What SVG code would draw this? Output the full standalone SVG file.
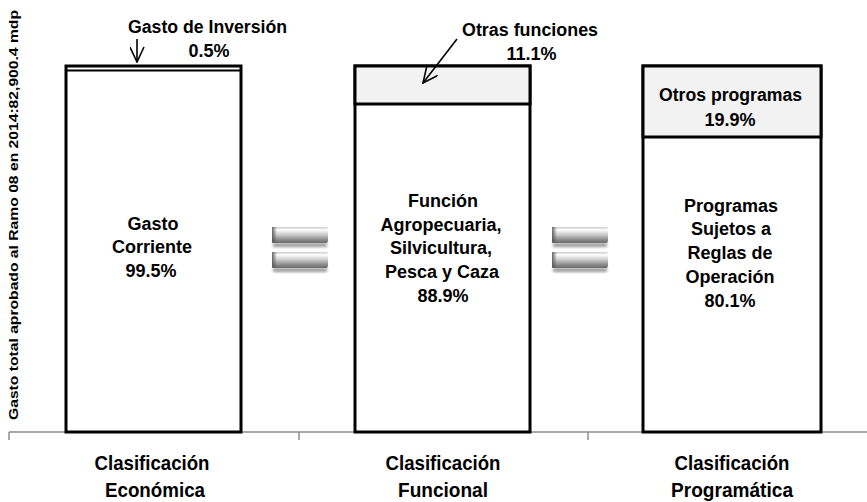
<svg xmlns="http://www.w3.org/2000/svg" width="867" height="502" viewBox="0 0 867 502">
  <defs>
    <style>
      text { font-family: "Liberation Sans", Arial, sans-serif; font-weight: bold; fill: #000; text-anchor: middle; }
      .lbl { font-size: 18px; }
      .ax { font-size: 20.5px; }
      .yl { font-size: 12.5px; }
      .bar { fill: #ffffff; stroke: #000; stroke-width: 3; }
      .seg { fill: #f2f2f2; stroke: #000; stroke-width: 3; }
      .axis { stroke: #8c8c8c; stroke-width: 1.5; fill: none; }
      .arrow { stroke: #000; stroke-width: 1.6; fill: none; }
    </style>
    <linearGradient id="bevel" x1="0" y1="0" x2="0" y2="1">
      <stop offset="0" stop-color="#c8c8c8"/>
      <stop offset="0.18" stop-color="#ffffff"/>
      <stop offset="0.45" stop-color="#d0d0d0"/>
      <stop offset="0.8" stop-color="#8a8a8a"/>
      <stop offset="1" stop-color="#6a6a6a"/>
    </linearGradient>
    <linearGradient id="edge" x1="0" y1="0" x2="1" y2="0">
      <stop offset="0" stop-color="#555" stop-opacity="0.9"/>
      <stop offset="1" stop-color="#555" stop-opacity="0"/>
    </linearGradient>
    <filter id="blur" x="-20%" y="-50%" width="140%" height="200%">
      <feGaussianBlur stdDeviation="1.5"/>
    </filter>
    <marker id="vhead" viewBox="0 0 17 15" refX="16" refY="7.5" markerWidth="17" markerHeight="15" markerUnits="userSpaceOnUse" orient="auto">
      <path d="M1,0.5 L16,7.5 L1,14.5" fill="none" stroke="#000" stroke-width="1.6"/>
    </marker>
    <g id="eqbar">
      <rect x="1" y="16" width="54" height="4" fill="#9a9a9a" filter="url(#blur)"/>
      <rect x="0" y="0" width="56" height="16" rx="2" fill="url(#bevel)"/>
      <rect x="0" y="0" width="5" height="16" fill="url(#edge)"/>
    </g>
  </defs>

  <!-- axes -->
  <g id="axis">
    <line class="axis" x1="9" y1="432" x2="867" y2="432"/>
    <line class="axis" x1="9" y1="432" x2="9" y2="440"/>
    <line class="axis" x1="299" y1="432" x2="299" y2="440"/>
    <line class="axis" x1="588" y1="432" x2="588" y2="440"/>
    <text class="yl" transform="translate(18,215) rotate(-90)" textLength="410" lengthAdjust="spacingAndGlyphs">Gasto total aprobado  al Ramo 08 en 2014:82,900.4 mdp</text>
  </g>

  <!-- bar 1 -->
  <g id="bar-economica">
    <rect class="bar" x="66" y="66" width="175" height="366"/>
    <line x1="66" y1="70.5" x2="241" y2="70.5" stroke="#000" stroke-width="1.8"/>
    <text class="lbl" x="153" y="230">Gasto</text>
    <text class="lbl" x="152" y="253">Corriente</text>
    <text class="lbl" x="151" y="277">99.5%</text>
    <text class="lbl" x="207.5" y="33" textLength="159" lengthAdjust="spacingAndGlyphs">Gasto de Inversión</text>
    <text class="lbl" x="209" y="57">0.5%</text>
    <text class="ax" x="152" y="470" textLength="115" lengthAdjust="spacingAndGlyphs">Clasificación</text>
    <text class="ax" x="155" y="497" textLength="100" lengthAdjust="spacingAndGlyphs">Económica</text>
  </g>

  <!-- bar 2 -->
  <g id="bar-funcional">
    <rect class="bar" x="355" y="66" width="175" height="366"/>
    <rect class="seg" x="355" y="66" width="175" height="38"/>
    <text class="lbl" x="443" y="207">Función</text>
    <text class="lbl" x="441" y="231">Agropecuaria,</text>
    <text class="lbl" x="441" y="254">Silvicultura,</text>
    <text class="lbl" x="442" y="278">Pesca y Caza</text>
    <text class="lbl" x="443" y="302">88.9%</text>
    <text class="lbl" x="530" y="36" textLength="136" lengthAdjust="spacingAndGlyphs">Otras funciones</text>
    <text class="lbl" x="531.5" y="60">11.1%</text>
    <text class="ax" x="443" y="470" textLength="115" lengthAdjust="spacingAndGlyphs">Clasificación</text>
    <text class="ax" x="443" y="497" textLength="90" lengthAdjust="spacingAndGlyphs">Funcional</text>
  </g>

  <!-- bar 3 -->
  <g id="bar-programatica">
    <rect class="bar" x="643" y="66" width="178" height="366"/>
    <rect class="seg" x="643" y="66" width="178" height="71"/>
    <text class="lbl" x="730.5" y="101" textLength="143" lengthAdjust="spacingAndGlyphs">Otros programas</text>
    <text class="lbl" x="730" y="126">19.9%</text>
    <text class="lbl" x="731" y="212">Programas</text>
    <text class="lbl" x="731" y="235">Sujetos a</text>
    <text class="lbl" x="730" y="259">Reglas de</text>
    <text class="lbl" x="730" y="283">Operación</text>
    <text class="lbl" x="730" y="307">80.1%</text>
    <text class="ax" x="732" y="470" textLength="115" lengthAdjust="spacingAndGlyphs">Clasificación</text>
    <text class="ax" x="732" y="497" textLength="122" lengthAdjust="spacingAndGlyphs">Programática</text>
  </g>

  <!-- equal signs -->
  <g id="equal-1">
    <use href="#eqbar" x="272" y="227"/>
    <use href="#eqbar" x="272" y="252"/>
  </g>
  <g id="equal-2">
    <use href="#eqbar" x="552" y="227"/>
    <use href="#eqbar" x="552" y="252"/>
  </g>

  <!-- connectors -->
  <g id="connectors">
    <line class="arrow" x1="137" y1="39" x2="137" y2="62" marker-end="url(#vhead)"/>
    <line class="arrow" x1="457" y1="39" x2="423" y2="83" marker-end="url(#vhead)"/>
  </g>
</svg>
